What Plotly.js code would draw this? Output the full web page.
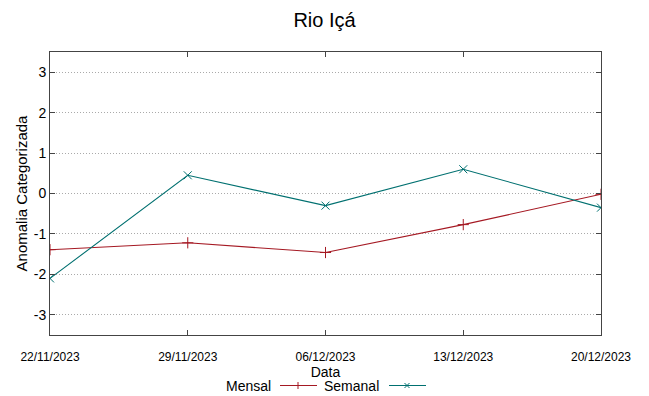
<!DOCTYPE html>
<html><head><meta charset="utf-8">
<script src="https://cdn.plot.ly/plotly-3.0.1.min.js"></script>
<style>body{margin:0;background:#fff}#c{width:649px;height:396px}</style>
</head><body><div id="c"></div>
<script>
const dates = ["2023-11-22","2023-11-29","2023-12-06","2023-12-13","2023-12-20"];
const tickLabels = ["22/11/2023","29/11/2023","06/12/2023","13/12/2023","20/12/2023"];
const mensal = [-1.39, -1.22, -1.46, -0.77, -0.02];
const semanal = [-2.1, 0.45, -0.3, 0.6, -0.35];
const yTicks = [-3,-2,-1,0,1,2,3];
const yTickLabels = ["-3","-2","-1","0","1","2","3"];

const red = "rgb(165,25,35)";
const teal = "rgb(0,112,112)";
const traces = [
  {x: dates, y: mensal, name: "Mensal", mode: "lines+markers", type: "scatter",
   line: {color: red, width: 1.1}, marker: {symbol: "cross-thin-open", size: 8, color: red, line: {color: red, width: 1}}},
  {x: dates, y: semanal, name: "Semanal", mode: "lines+markers", type: "scatter",
   line: {color: teal, width: 1.1}, marker: {symbol: "x-thin-open", size: 8, color: teal, line: {color: teal, width: 1}}}
];
const font = "Liberation Sans, Arial, sans-serif";
const LY = 385.5;
const py = v => (335 - v) / 283;
const px = v => (v - 50) / 551;
const layout = {
  width: 649, height: 396,
  margin: {l: 50, r: 48, t: 52, b: 61},
  paper_bgcolor: "#fff", plot_bgcolor: "#fff",
  showlegend: false,
  title: {text: "Rio Içá", x: 0.5, xanchor: "center", y: 0.95, yanchor: "middle", font: {family: font, size: 20, color: "#000"}},
  xaxis: {type: "date", range: [dates[0], dates[4]], tickvals: dates, ticktext: tickLabels,
    showgrid: false, zeroline: false, showline: true, linecolor: "#444", linewidth: 1, mirror: "ticks",
    ticks: "inside", ticklen: 5, tickcolor: "#444", ticklabelstandoff: 11,
    tickfont: {family: "Liberation Sans Narrow, " + font, size: 12, color: "#000"},
    title: {text: "Data", standoff: 0, font: {family: font, size: 14, color: "#000"}}},
  yaxis: {range: [-3.5, 3.5], tickvals: yTicks, ticktext: yTickLabels, showgrid: true, gridcolor: "#aaa", griddash: "1px,2px", gridwidth: 1,
    zeroline: false, showline: true, linecolor: "#444", linewidth: 1, mirror: "ticks",
    ticks: "inside", ticklen: 5, tickcolor: "#444",
    tickfont: {family: font, size: 14, color: "#000"},
    title: {text: "Anomalia Categorizada", standoff: 2, font: {family: font, size: 15, color: "#000"}}},
  annotations: [
    {xref: "paper", yref: "paper", x: px(273), y: py(LY), xanchor: "right", yanchor: "middle", text: "Mensal", showarrow: false, font: {family: font, size: 14, color: "#000"}},
    {xref: "paper", yref: "paper", x: px(381), y: py(LY), xanchor: "right", yanchor: "middle", text: "Semanal", showarrow: false, font: {family: font, size: 14, color: "#000"}}
  ],
  shapes: [
    {type: "line", xref: "paper", yref: "paper", x0: px(280), x1: px(317), y0: py(LY), y1: py(LY), line: {color: red, width: 1.1}},
    {type: "line", xref: "paper", yref: "paper", x0: px(298), x1: px(298), y0: py(LY-3.5), y1: py(LY+3.5), line: {color: red, width: 1}},
    {type: "line", xref: "paper", yref: "paper", x0: px(389), x1: px(426), y0: py(LY), y1: py(LY), line: {color: teal, width: 1.1}},
    {type: "line", xref: "paper", yref: "paper", x0: px(404.5), x1: px(409.5), y0: py(LY-2.5), y1: py(LY+2.5), line: {color: teal, width: 1}},
    {type: "line", xref: "paper", yref: "paper", x0: px(404.5), x1: px(409.5), y0: py(LY+2.5), y1: py(LY-2.5), line: {color: teal, width: 1}}
  ]
};
Plotly.newPlot("c", traces, layout, {displayModeBar: false, staticPlot: true});
</script></body></html>
